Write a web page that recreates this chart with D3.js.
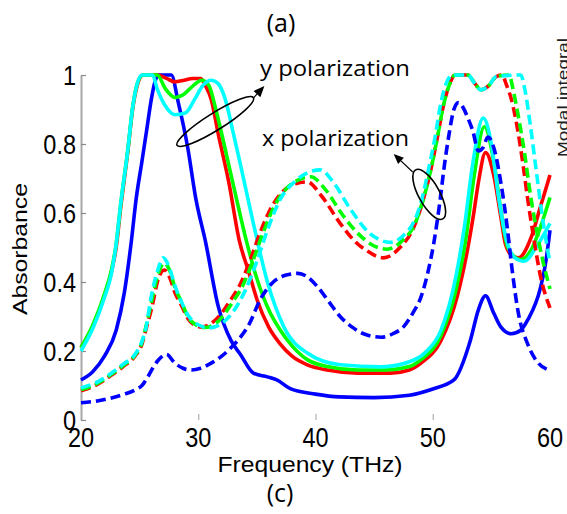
<!DOCTYPE html>
<html><head><meta charset="utf-8">
<script src="https://cdn.jsdelivr.net/npm/d3@7/dist/d3.min.js"></script>
<style>body{margin:0;background:#fff}svg{display:block}</style>
</head><body>
<svg id="c" width="567" height="514"></svg>
<script>
// ---------- data ----------
const xTicks = [20, 30, 40, 50, 60];
const yTicks = [0, 0.2, 0.4, 0.6, 0.8, 1];
const yTickLabels = ["0", "0.2", "0.4", "0.6", "0.8", "1"];

// y polarization (solid)
const fBlueY = [20,21,22,23,23.7,24.3,24.7,25.2,25.6,26.0,26.3,26.6,27.7,28.3,29.1,29.8,30.6,31.7,32.8,33.6,34.7,35.9,36.7,37.9,40,42,45,48,50,51.8,53.2,53.9,54.5,55.2,55.8,56.7,57.5,58.1,59.2,59.6,60];
const aBlueY = [0.116,0.14,0.185,0.26,0.37,0.52,0.64,0.75,0.84,0.93,0.98,1.0,1.0,0.92,0.79,0.64,0.52,0.33,0.23,0.19,0.136,0.125,0.116,0.09,0.075,0.067,0.065,0.072,0.09,0.116,0.23,0.32,0.36,0.31,0.27,0.25,0.26,0.29,0.385,0.45,0.55];

const fRedY = [20,21,22,22.6,23,23.4,24,24.4,24.8,25.3,26.5,27.3,28,28.8,29.5,30.2,30.6,31.1,31.7,32.6,33.5,34.3,35,36,37,38,39.3,41,43.6,46.4,48,49,50.7,52.1,53,53.5,53.9,54.5,55.2,55.8,56.2,56.8,57.3,58.4,59.2,60];
const aRedY = [0.21,0.27,0.36,0.43,0.5,0.62,0.78,0.9,0.97,1.0,1.0,0.99,0.98,0.985,0.99,0.99,0.97,0.93,0.83,0.69,0.52,0.43,0.35,0.27,0.22,0.185,0.16,0.145,0.136,0.136,0.145,0.165,0.23,0.36,0.5,0.6,0.69,0.775,0.71,0.59,0.51,0.475,0.47,0.53,0.62,0.71];

const fGreenY = [20,21,22,22.6,23,23.4,24,24.4,24.8,25.3,26.5,27.2,28,28.8,29.6,30.3,30.9,31.5,32.2,33.2,34.1,35,36,37,38,39.3,41,43.6,46,48,49,50.7,52,52.8,53.5,54.4,55.2,55.8,56.4,57.5,58.5,59.2,60];
const aGreenY = [0.21,0.275,0.365,0.435,0.51,0.63,0.785,0.905,0.975,1.0,1.0,0.96,0.935,0.945,0.97,0.985,0.97,0.9,0.8,0.65,0.52,0.41,0.32,0.26,0.215,0.175,0.155,0.145,0.145,0.155,0.175,0.245,0.38,0.52,0.7,0.85,0.75,0.61,0.5,0.465,0.5,0.56,0.645];

const fCyanY = [20,21,22,22.6,23,23.4,24,24.4,24.8,25.2,26.1,26.5,27.2,28,28.9,29.7,30.4,31.1,31.7,32.3,33,33.6,34.7,35.9,37.3,39.3,42.1,45.6,48.4,49.5,50.7,52,52.7,53.4,54.3,55,55.6,56.3,57,57.8,58.8,60];
const aCyanY = [0.2,0.265,0.355,0.425,0.51,0.63,0.785,0.905,0.975,1.0,1.0,0.96,0.91,0.885,0.89,0.93,0.97,0.985,0.975,0.93,0.83,0.74,0.57,0.40,0.27,0.194,0.16,0.154,0.174,0.2,0.26,0.42,0.56,0.74,0.875,0.8,0.65,0.52,0.47,0.46,0.5,0.57];

// x polarization (dashed)
const fRedX = [20,21.5,22.6,23.6,24.6,25.2,25.6,26,26.6,27.1,27.6,28,28.6,29.1,29.7,30.3,31.3,32,32.6,33.6,34.5,35.3,36.3,37.3,38.3,39.3,40.5,42.1,43.3,44.4,45.8,47.2,48.4,49.2,49.8,50.4,50.9,51.4,51.9,53,53.6,54.1,54.8,55.4,55.9,56.3,56.7,57.3,57.7,58.1,58.6,59.2,60];
const aRedX = [0.085,0.105,0.13,0.155,0.185,0.22,0.27,0.32,0.41,0.435,0.41,0.37,0.33,0.295,0.275,0.27,0.285,0.31,0.34,0.395,0.47,0.545,0.62,0.665,0.685,0.69,0.65,0.57,0.52,0.49,0.47,0.5,0.56,0.64,0.72,0.82,0.91,0.97,1.0,1.0,0.975,0.957,0.97,0.995,1.0,0.97,0.93,0.83,0.74,0.64,0.53,0.415,0.325];

const fGreenX = [20,21.5,22.6,23.6,24.6,25.2,25.6,26,26.6,27.1,27.6,28,28.6,29.1,29.7,30.5,31.5,32.2,32.8,33.8,34.7,35.5,36.5,37.5,38.5,39.6,40.8,42.3,43.5,44.7,46.1,47.4,48.5,49.2,49.8,50.4,50.9,51.4,51.9,53,53.6,54.1,54.8,55.4,56.5,56.9,57.3,57.8,58.3,58.8,59.4,60];
const aGreenX = [0.088,0.108,0.133,0.158,0.188,0.225,0.28,0.34,0.425,0.455,0.43,0.385,0.34,0.3,0.278,0.268,0.28,0.305,0.335,0.39,0.465,0.54,0.62,0.67,0.695,0.705,0.67,0.595,0.545,0.51,0.495,0.52,0.57,0.64,0.72,0.82,0.91,0.97,1.0,1.0,0.975,0.957,0.97,0.995,1.0,0.95,0.88,0.78,0.66,0.56,0.46,0.38];

const fCyanX = [20,21.5,22.6,23.6,24.6,25.2,25.5,26,26.6,27,27.5,28,28.6,29.1,29.8,30.9,32,33,34,35,36,37,38.2,39.4,40.4,41.5,43,44.5,46.4,47.5,48.4,49,49.6,50.2,50.7,51.2,51.7,53,53.6,54.1,54.8,55.4,57.5,57.9,58.3,58.8,59.3,60];
const aCyanX = [0.093,0.112,0.136,0.162,0.19,0.228,0.26,0.36,0.44,0.47,0.445,0.39,0.34,0.305,0.28,0.267,0.28,0.315,0.375,0.46,0.56,0.64,0.69,0.718,0.725,0.69,0.61,0.545,0.515,0.535,0.575,0.63,0.72,0.82,0.92,0.98,1.0,1.0,0.975,0.957,0.97,0.995,1.0,0.95,0.86,0.73,0.6,0.455];

const fBlueX = [20,21.5,22.6,23.6,24.6,25.2,25.7,26.2,26.6,27.3,28,28.7,29.4,30.2,31.1,32,32.8,33.6,34.3,35.3,36.4,37.5,38.5,39.3,40.2,41.2,42.1,43.1,44.1,45.6,46.6,47.5,48.3,49,49.6,50.1,50.6,51,51.4,51.8,52.2,52.6,53,53.4,53.9,54.3,54.7,55.2,55.8,56.4,56.7,57.3,58.1,59,59.9];
const aBlueX = [0.05,0.056,0.064,0.074,0.087,0.1,0.125,0.155,0.174,0.19,0.165,0.15,0.145,0.15,0.165,0.185,0.21,0.24,0.275,0.35,0.40,0.42,0.425,0.415,0.385,0.34,0.30,0.27,0.25,0.24,0.25,0.27,0.31,0.357,0.43,0.515,0.63,0.74,0.83,0.90,0.92,0.905,0.875,0.84,0.78,0.79,0.82,0.79,0.69,0.545,0.455,0.31,0.22,0.165,0.145];

// ---------- chart ----------
const palette = {blue: "#0000ff", red: "#ff0000", green: "#00ff00", cyan: "#00ffff"};
const series = [
  {f: fBlueY, a: aBlueY, c: "blue", dashed: false},
  {f: fRedY, a: aRedY, c: "red", dashed: false},
  {f: fGreenY, a: aGreenY, c: "green", dashed: false},
  {f: fCyanY, a: aCyanY, c: "cyan", dashed: false},
  {f: fRedX, a: aRedX, c: "red", dashed: true},
  {f: fGreenX, a: aGreenX, c: "green", dashed: true},
  {f: fCyanX, a: aCyanX, c: "cyan", dashed: true},
  {f: fBlueX, a: aBlueX, c: "blue", dashed: true}
];

const svg = d3.select("#c");
const x = d3.scaleLinear().domain([20, 60]).range([81, 550]);
const y = d3.scaleLinear().domain([0, 1]).range([420, 75]);

// axes
const gy = svg.append("g").attr("transform", "translate(81,0)")
  .call(d3.axisLeft(y).tickValues(yTicks).tickSize(-5).tickSizeOuter(0).tickFormat(""));
gy.select(".domain").attr("stroke", "#a8a8a8").attr("stroke-width", 2);
gy.selectAll(".tick line").attr("stroke", "#8a8a8a").attr("stroke-width", 1.2);

const gx = svg.append("g").attr("transform", "translate(0,420)")
  .call(d3.axisBottom(x).tickValues(xTicks.slice(1, -1)).tickSize(-6).tickSizeOuter(0).tickFormat(""));
gx.select(".domain").remove();
gx.selectAll(".tick line").attr("stroke", "#b0b0b0").attr("stroke-width", 1.2);

const tickFont = "'Liberation Sans', Arial, sans-serif";
svg.append("g").selectAll("text").data(yTicks).join("text")
  .attr("transform", d => `translate(76,${y(d)}) scale(1,1.2)`)
  .attr("y", 8.3)
  .attr("text-anchor", "end")
  .attr("font-family", tickFont).attr("font-size", 23.5).attr("fill", "#000")
  .text((d, i) => yTickLabels[i]);

svg.append("g").selectAll("text").data(xTicks).join("text")
  .attr("transform", d => `translate(${x(d)},447) scale(1,1.2)`)
  .attr("text-anchor", "middle")
  .attr("font-family", tickFont).attr("font-size", 23.5).attr("fill", "#000")
  .text(d => d);

// curves
const line = d3.line().x(d => x(d[0])).y(d => y(d[1])).curve(d3.curveMonotoneX);
svg.append("g").selectAll("path").data(series).join("path")
  .attr("d", s => line(s.f.map((v, i) => [v, s.a[i]])))
  .attr("fill", "none")
  .attr("stroke", s => palette[s.c])
  .attr("stroke-width", 3.6)
  .attr("stroke-dasharray", s => s.dashed ? "10,5" : null)
  .attr("stroke-linejoin", "round");

// annotations (positions in data units)
const ellipses = [
  {f: 31.45, a: 0.865, rx: 45, ry: 8.5, rot: -32},
  {f: 49.7, a: 0.654, rx: 28, ry: 10.5, rot: 61}
];
svg.append("g").selectAll("ellipse").data(ellipses).join("ellipse")
  .attr("transform", d => `translate(${x(d.f)},${y(d.a)}) rotate(${d.rot})`)
  .attr("rx", d => d.rx).attr("ry", d => d.ry)
  .attr("fill", "none").attr("stroke", "#000").attr("stroke-width", 1.6);

const arrows = [
  {f0: 34.7, a0: 0.933, f1: 35.64, a1: 0.968, head: 11},
  {f0: 48.29, a0: 0.719, f1: 46.67, a1: 0.771, head: 10}
];
arrows.forEach(ar => {
  const x0 = x(ar.f0), y0 = y(ar.a0), x1 = x(ar.f1), y1 = y(ar.a1);
  const ang = Math.atan2(y1 - y0, x1 - x0);
  const bx = x1 - ar.head * Math.cos(ang), by = y1 - ar.head * Math.sin(ang);
  svg.append("line").attr("x1", x0).attr("y1", y0).attr("x2", bx).attr("y2", by)
    .attr("stroke", "#000").attr("stroke-width", 1.2);
  const w = ar.head * 0.42;
  const px = -Math.sin(ang) * w, py = Math.cos(ang) * w;
  svg.append("path")
    .attr("d", `M${x1},${y1}L${bx + px},${by + py}L${bx - px},${by - py}Z`)
    .attr("fill", "#000");
});

// texts
const labFont = "'Open Sans', 'Liberation Sans', sans-serif";
svg.append("text").attr("x", 281).attr("y", 32).attr("text-anchor", "middle")
  .attr("font-family", labFont).attr("font-size", 25).text("(a)");
svg.append("text").attr("x", 280).attr("y", 502).attr("text-anchor", "middle")
  .attr("font-family", labFont).attr("font-size", 25).text("(c)");
svg.append("text").attr("x", 260).attr("y", 76)
  .attr("font-family", labFont).attr("font-size", 21.5)
  .attr("textLength", 150).attr("lengthAdjust", "spacingAndGlyphs").text("y polarization");
svg.append("text").attr("x", 262).attr("y", 146)
  .attr("font-family", labFont).attr("font-size", 21.5)
  .attr("textLength", 147).attr("lengthAdjust", "spacingAndGlyphs").text("x polarization");
svg.append("text").attr("x", 310).attr("y", 472).attr("text-anchor", "middle")
  .attr("font-family", tickFont).attr("font-size", 22)
  .attr("textLength", 185).attr("lengthAdjust", "spacingAndGlyphs").text("Frequency (THz)");
svg.append("text").attr("transform", "translate(27,249) rotate(-90)").attr("text-anchor", "middle")
  .attr("font-family", tickFont).attr("font-size", 20)
  .attr("textLength", 132).attr("lengthAdjust", "spacingAndGlyphs").text("Absorbance");
svg.append("text").attr("transform", "translate(568,97.5) rotate(-90)").attr("text-anchor", "middle")
  .attr("font-family", tickFont).attr("font-size", 15).attr("fill", "#222")
  .attr("textLength", 119).attr("lengthAdjust", "spacingAndGlyphs").text("Modal integral");
</script></body></html>
